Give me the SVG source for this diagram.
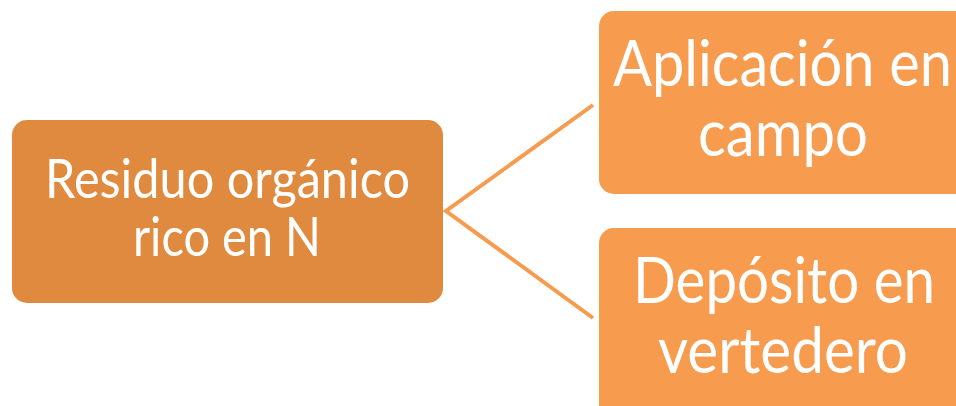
<svg xmlns="http://www.w3.org/2000/svg" width="956" height="406" viewBox="0 0 956 406">
<style>
.t{font-family:Lato,"Open Sans","Liberation Sans",sans-serif;fill:#ffffff;text-anchor:middle}
.s{font-size:54px}
.b{font-size:64px}
.c{stroke:#F79B4E;stroke-width:4;fill:none;stroke-linecap:butt}
</style>
<rect width="956" height="406" fill="#ffffff"/>
<g id="connectors">
<path class="c" d="M593,105 L446,211 L593,318"/>
</g>
<g id="node-residuo">
<rect x="12" y="120" width="431" height="183" rx="15" fill="#E08A3F"/>
<text class="t s" x="227.5" y="198" textLength="365" lengthAdjust="spacingAndGlyphs">Residuo orgánico</text>
<text class="t s" x="227" y="256" textLength="188" lengthAdjust="spacingAndGlyphs">rico en N</text>
</g>
<g id="node-aplicacion">
<rect x="599" y="11" width="380" height="183" rx="15" fill="#F79B4E"/>
<text class="t b" x="782.5" y="86" textLength="339" lengthAdjust="spacingAndGlyphs">Aplicación en</text>
<text class="t b" x="783" y="156" textLength="170" lengthAdjust="spacingAndGlyphs">campo</text>
</g>
<g id="node-deposito">
<rect x="599" y="228" width="380" height="200" rx="15" fill="#F79B4E"/>
<text class="t b" x="784" y="303" textLength="302" lengthAdjust="spacingAndGlyphs">Depósito en</text>
<text class="t b" x="783" y="373" textLength="250" lengthAdjust="spacingAndGlyphs">vertedero</text>
</g>
</svg>
